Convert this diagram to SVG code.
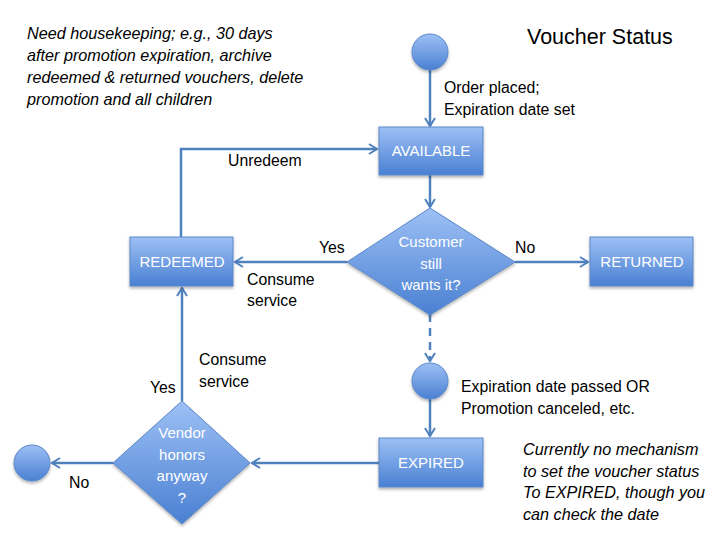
<svg xmlns="http://www.w3.org/2000/svg" width="720" height="540" viewBox="0 0 720 540">
<defs>
<linearGradient id="g" x1="0" y1="0" x2="0" y2="1">
<stop offset="0" stop-color="#9dc0f5"/>
<stop offset="1" stop-color="#4a80d2"/>
</linearGradient>
<filter id="sh" x="-20%" y="-20%" width="140%" height="150%">
<feDropShadow dx="0" dy="2" stdDeviation="1.5" flood-color="#000" flood-opacity="0.3"/>
</filter>
<marker id="ah" markerWidth="12" markerHeight="12" viewBox="0 0 12 12" refX="10" refY="6" orient="auto" markerUnits="userSpaceOnUse">
<path d="M2,1 L10,6 L2,11" fill="none" stroke="#4f81bd" stroke-width="2"/>
</marker>
<style>
.n{fill:url(#g);stroke:#5a88c8;stroke-width:1;filter:url(#sh)}
.c{fill:none;stroke:#4f81bd;stroke-width:2.5}
.t{font-family:"Liberation Sans",Arial,sans-serif;font-size:15.8px;fill:#000}
.w{font-family:"Liberation Sans",Arial,sans-serif;font-size:15px;fill:#fff;text-anchor:middle}
.i{font-style:italic;font-size:16.2px}
.h{font-size:21.5px}
</style>
</defs>
<rect width="720" height="540" fill="#fff"/>
<g id="connectors">
<line class="c" x1="430" y1="70" x2="430" y2="126" marker-end="url(#ah)"/>
<line class="c" x1="430" y1="175" x2="430" y2="207" marker-end="url(#ah)"/>
<line class="c" x1="347" y1="262" x2="235" y2="262" marker-end="url(#ah)"/>
<line class="c" x1="515" y1="262" x2="588" y2="262" marker-end="url(#ah)"/>
<polyline class="c" points="181,237 181,149 377,149" marker-end="url(#ah)"/>
<line class="c" x1="430" y1="314" x2="430" y2="361" stroke-dasharray="8,6" marker-end="url(#ah)"/>
<line class="c" x1="430" y1="399" x2="430" y2="436" marker-end="url(#ah)"/>
<line class="c" x1="379" y1="463" x2="252" y2="463" marker-end="url(#ah)"/>
<line class="c" x1="113" y1="463" x2="52" y2="463" marker-end="url(#ah)"/>
<line class="c" x1="182" y1="401" x2="182" y2="288" marker-end="url(#ah)"/>
</g>
<g id="start"><circle class="n" cx="430" cy="52" r="18"/></g>
<g id="available"><rect class="n" x="379" y="127" width="104" height="48"/><text class="w" x="431" y="156">AVAILABLE</text></g>
<g id="customer"><polygon class="n" points="430,208 515,262 430,315 347,262"/><text class="w" x="431" y="247">Customer</text><text class="w" x="431" y="269">still</text><text class="w" x="431" y="290">wants it?</text></g>
<g id="redeemed"><rect class="n" x="130" y="237" width="103" height="49"/><text class="w" x="182" y="267">REDEEMED</text></g>
<g id="returned"><rect class="n" x="590" y="237" width="103" height="49"/><text class="w" x="642" y="267">RETURNED</text></g>
<g id="expire-event"><circle class="n" cx="430" cy="381" r="18"/></g>
<g id="expired"><rect class="n" x="379" y="438" width="104" height="49"/><text class="w" x="431" y="468">EXPIRED</text></g>
<g id="vendor"><polygon class="n" points="182,401 250,463 182,524 113,463"/><text class="w" x="182" y="438">Vendor</text><text class="w" x="182" y="460">honors</text><text class="w" x="182" y="481">anyway</text><text class="w" x="182" y="503">?</text></g>
<g id="end"><circle class="n" cx="32" cy="463" r="18"/></g>
<g id="labels">
<text class="t h" x="527" y="44">Voucher Status</text>
<text class="t" x="444" y="93">Order placed;</text>
<text class="t" x="444" y="115">Expiration date set</text>
<text class="t" x="228" y="166">Unredeem</text>
<text class="t" x="319" y="253">Yes</text>
<text class="t" x="515" y="253">No</text>
<text class="t" x="247" y="285">Consume</text>
<text class="t" x="247" y="306">service</text>
<text class="t" x="461" y="392">Expiration date passed OR</text>
<text class="t" x="461" y="414">Promotion canceled, etc.</text>
<text class="t" x="199" y="365">Consume</text>
<text class="t" x="199" y="387">service</text>
<text class="t" x="150" y="393">Yes</text>
<text class="t" x="69" y="488">No</text>
<text class="t i" x="27" y="39">Need housekeeping; e.g., 30 days</text>
<text class="t i" x="27" y="61">after promotion expiration, archive</text>
<text class="t i" x="27" y="83">redeemed &amp; returned vouchers, delete</text>
<text class="t i" x="27" y="105">promotion and all children</text>
<text class="t i" x="523" y="455">Currently no mechanism</text>
<text class="t i" x="523" y="477">to set the voucher status</text>
<text class="t i" x="523" y="498">To EXPIRED, though you</text>
<text class="t i" x="523" y="520">can check the date</text>
</g>
</svg>
